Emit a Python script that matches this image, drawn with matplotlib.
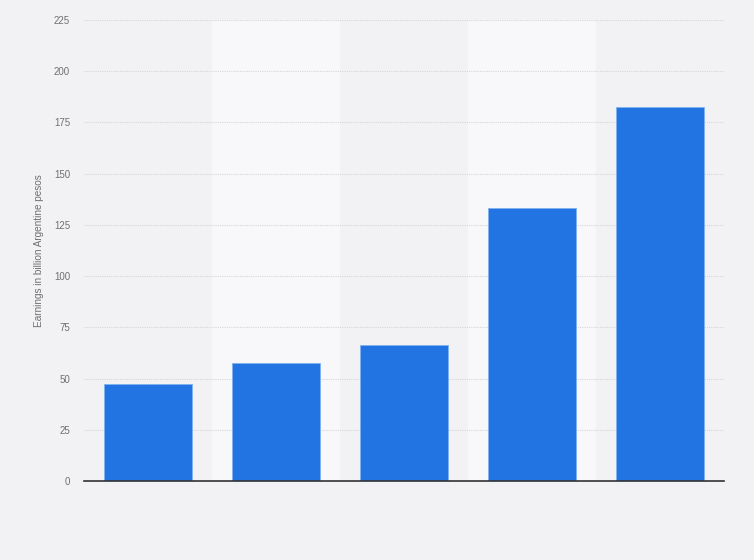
import numpy as np
import matplotlib
matplotlib.use("Agg")
import matplotlib.pyplot as plt

plt.rcParams["font.family"] = ["Liberation Sans", "DejaVu Sans"]

# values (no category labels shown in the reference)
categories = ["", "", "", "", ""]
earnings = [47.2, 57.8, 66.6, 133.1, 182.5]
y_ticks = [0, 25, 50, 75, 100, 125, 150, 175, 200, 225]

bg = "#f2f1f4"
band = "#f8f7fa"
bar_color = "#2274e3"

fig = plt.figure(figsize=(7.54, 5.6), dpi=100, facecolor=bg)
ax = fig.add_axes([84 / 754, 79 / 560, 640 / 754, 461 / 560])
ax.set_facecolor(bg)

x = np.arange(len(earnings))

# alternating column bands
for i in x:
    if i % 2 == 1:
        ax.axvspan(i - 0.5, i + 0.5, color=band, zorder=0, lw=0)

ax.bar(x, earnings, width=0.6875, color=bar_color, edgecolor="#7fb2f0",
       linewidth=0.6, zorder=3)

ax.set_xlim(-0.5, len(earnings) - 0.5)
ax.set_ylim(0, 225)
ax.set_yticks(y_ticks)
ax.set_yticklabels([str(t) for t in y_ticks], fontsize=7, color="#707070")
ax.set_xticks(x)
ax.set_xticklabels(categories)
ax.tick_params(axis="both", length=0)
ax.tick_params(axis="y", pad=10)

ax.yaxis.grid(True, linestyle=(0, (1, 1)), color="#d6d6db", linewidth=0.8, zorder=1)
ax.set_axisbelow(True)

for side in ["top", "right", "left"]:
    ax.spines[side].set_visible(False)
ax.spines["bottom"].set_color("#333333")
ax.spines["bottom"].set_linewidth(1.2)
ax.spines["bottom"].set_zorder(4)

ax.set_ylabel("Earnings in billion Argentine pesos", fontsize=7.2, color="#707070")
ax.yaxis.set_label_coords(-(84 - 44) / 640, 0.5)

fig.savefig("out.png", dpi=100, facecolor=bg)
